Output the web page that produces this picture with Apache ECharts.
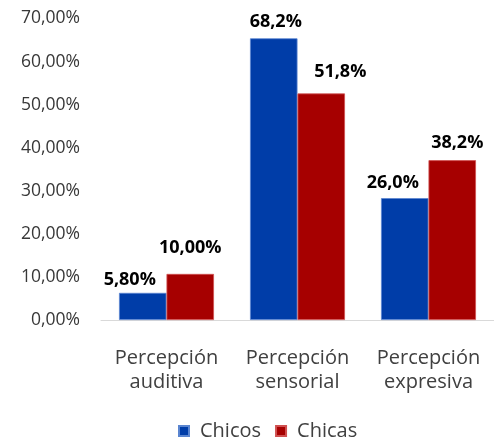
<!DOCTYPE html>
<html>
<head>
<meta charset="utf-8">
<script src="https://cdn.jsdelivr.net/npm/echarts@6/dist/echarts.min.js"></script>
<style>html,body{margin:0;padding:0;background:#fff}#c{width:494px;height:443px}</style>
</head>
<body>
<div id="c"></div>
<script>
// Data
var categories = ['Percepción\nauditiva', 'Percepción\nsensorial', 'Percepción\nexpresiva'];
var seriesNames = ['Chicos', 'Chicas'];
var chicosValues = [6.3, 65.4, 28.3];
var chicasValues = [10.7, 52.6, 37.1];
var chicosLabels = ['5,80%', '68,2%', '26,0%'];
var chicasLabels = ['10,00%', '51,8%', '38,2%'];
var yTickLabels = ['0,00%', '10,00%', '20,00%', '30,00%', '40,00%', '50,00%', '60,00%', '70,00%'];

// Label placement tweaks (style only)
var chicosLabelOffsets = [[-13, 1], [2, -2], [-12, -1]];
var chicasLabelOffsets = [[0, -12], [19, -8], [5, -3]];

function buildData(values, labels, offsets) {
  return values.map(function (v, i) {
    return { value: v, label: { formatter: labels[i], offset: offsets[i] } };
  });
}

var chart = echarts.init(document.getElementById('c'));
chart.setOption({
  animation: false,
  backgroundColor: '#ffffff',
  grid: { left: 101, right: -4, top: 18.5, bottom: 123, containLabel: false },
  legend: {
    data: seriesNames,
    left: 173,
    top: 416,
    itemWidth: 10,
    itemHeight: 10,
    itemGap: 14,
    icon: 'rect',
    textStyle: { fontFamily: 'Open Sans', fontSize: 20, color: '#404040', padding: [0, 0, 0, 6] }
  },
  xAxis: {
    type: 'category',
    data: categories,
    axisLine: { lineStyle: { color: '#d9d9d9', width: 1 } },
    axisTick: { show: false },
    axisLabel: { fontFamily: 'Open Sans', fontSize: 20, color: '#404040', lineHeight: 24, margin: 26, interval: 0 }
  },
  yAxis: {
    type: 'value',
    min: 0,
    max: 70,
    interval: 10,
    splitLine: { show: false },
    axisLine: { show: false },
    axisTick: { show: false },
    axisLabel: {
      fontFamily: 'Open Sans',
      fontSize: 17.5,
      color: '#383838',
      margin: 21,
      formatter: function (v) { return yTickLabels[Math.round(v / 10)]; }
    }
  },
  series: [
    {
      name: seriesNames[0],
      type: 'bar',
      barGap: '0%',
      barCategoryGap: '27.5%',
      itemStyle: { color: '#003da8', borderColor: '#5a85d0', borderWidth: 0.8 },
      label: { show: true, position: 'top', distance: 5, fontFamily: 'Open Sans', fontWeight: 'bold', fontSize: 18, color: '#000' },
      data: buildData(chicosValues, chicosLabels, chicosLabelOffsets)
    },
    {
      name: seriesNames[1],
      type: 'bar',
      itemStyle: { color: '#a60000', borderColor: '#d05050', borderWidth: 0.8 },
      label: { show: true, position: 'top', distance: 5, fontFamily: 'Open Sans', fontWeight: 'bold', fontSize: 18, color: '#000' },
      data: buildData(chicasValues, chicasLabels, chicasLabelOffsets)
    }
  ]
});
</script>
</body>
</html>
